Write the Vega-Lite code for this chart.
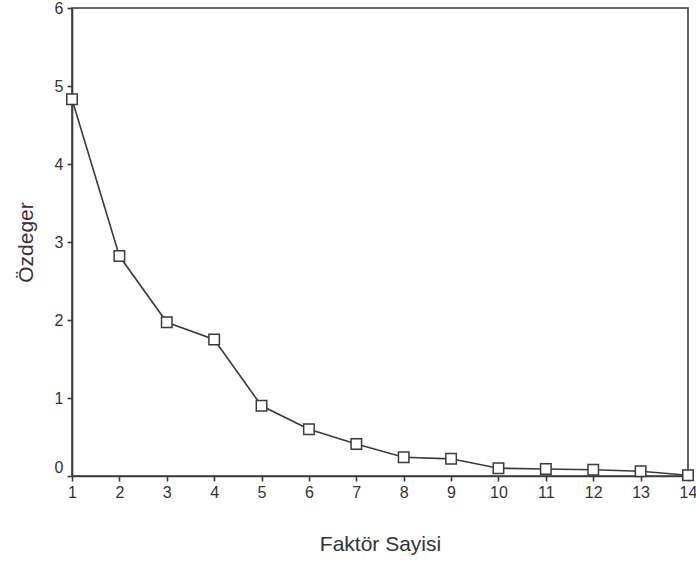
{
  "$schema": "https://vega.github.io/schema/vega-lite/v6.json",
  "width": 616,
  "height": 468,
  "autosize": "none",
  "padding": {"left": 72, "top": 8, "right": 8, "bottom": 88},
  "background": "white",
  "config": {
    "view": {"stroke": "#3a3a3a", "strokeWidth": 1.6},
    "axis": {"font": "Liberation Sans", "labelFont": "Liberation Sans", "titleFont": "Liberation Sans"}
  },
  "data": {
    "values": [
      {"faktor": 1, "ozdeger": 4.83},
      {"faktor": 2, "ozdeger": 2.82},
      {"faktor": 3, "ozdeger": 1.97},
      {"faktor": 4, "ozdeger": 1.75},
      {"faktor": 5, "ozdeger": 0.9},
      {"faktor": 6, "ozdeger": 0.6},
      {"faktor": 7, "ozdeger": 0.41},
      {"faktor": 8, "ozdeger": 0.24},
      {"faktor": 9, "ozdeger": 0.22},
      {"faktor": 10, "ozdeger": 0.1},
      {"faktor": 11, "ozdeger": 0.09},
      {"faktor": 12, "ozdeger": 0.08},
      {"faktor": 13, "ozdeger": 0.06},
      {"faktor": 14, "ozdeger": 0.01}
    ]
  },
  "encoding": {
    "x": {
      "field": "faktor",
      "type": "quantitative",
      "scale": {"domain": [1, 14], "nice": false, "zero": false},
      "axis": {
        "title": "Faktör Sayisi",
        "values": [1,2,3,4,5,6,7,8,9,10,11,12,13,14],
        "format": "d",
        "grid": false,
        "domainColor": "#3a3a3a",
        "domainWidth": 1.6,
        "tickColor": "#3a3a3a",
        "tickWidth": 1.6,
        "tickSize": 5,
        "labelFontSize": 16,
        "labelColor": "#333333",
        "labelPadding": 3,
        "labelFlush": false,
        "titleFontSize": 21,
        "titleFontWeight": "normal",
        "titleColor": "#333333",
        "titlePadding": 33
      }
    },
    "y": {
      "field": "ozdeger",
      "type": "quantitative",
      "scale": {"domain": [0, 6], "nice": false},
      "axis": {
        "title": "Özdeger",
        "values": [0,1,2,3,4,5,6],
        "grid": false,
        "domainColor": "#3a3a3a",
        "domainWidth": 1.6,
        "tickColor": "#3a3a3a",
        "tickWidth": 1.6,
        "tickSize": 5,
        "labelFontSize": 16,
        "labelColor": "#333333",
        "labelPadding": 4,
        "labelFlush": false,
        "labelOffset": {"condition": {"test": "datum.value == 0", "value": -9}, "value": 0},
        "titleFontSize": 21,
        "titleFontWeight": "normal",
        "titleColor": "#333333",
        "titlePadding": 18
      }
    }
  },
  "layer": [
    {
      "mark": {"type": "line", "color": "#3a3a3a", "strokeWidth": 1.6}
    },
    {
      "mark": {"type": "point", "shape": "square", "size": 110, "filled": false, "fill": "white", "fillOpacity": 1, "stroke": "#3a3a3a", "strokeWidth": 1.5, "opacity": 1}
    }
  ]
}
